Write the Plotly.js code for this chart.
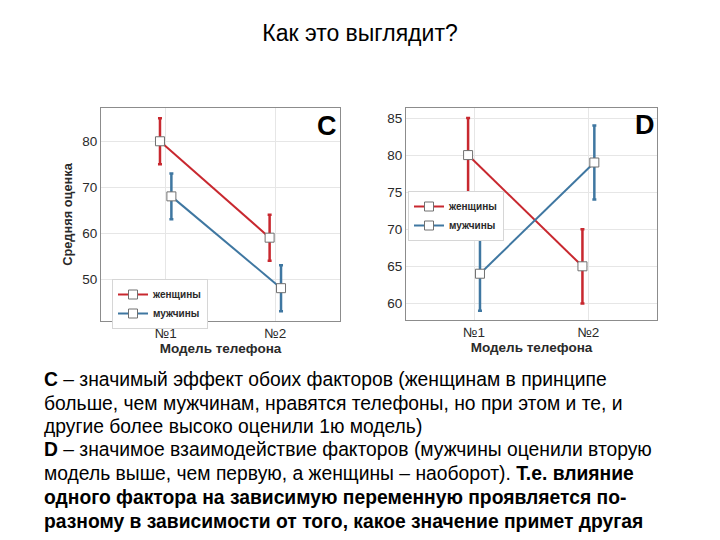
<!DOCTYPE html>
<html><head><meta charset="utf-8">
<script src="https://cdn.plot.ly/plotly-3.0.1.min.js"></script>
<style>html,body{margin:0;padding:0;background:#fff}#chart{width:720px;height:540px}</style>
</head><body><div id="chart"></div>
<script>
// Data
const categories = ['№1', '№2'];
const groups = ['женщины', 'мужчины'];
const womenC = [80, 59];
const womenCErr = [5, 5];
const menC = [68, 48];
const menCErr = [5, 5];
const womenD = [80, 65];
const womenDErr = [5, 5];
const menD = [64, 79];
const menDErr = [5, 5];

const W = 720, H = 540;
const px = v => v / W;
const py = v => 1 - v / H;
const red = '#c8282f', blue = '#3f77a1';
const catPos = [1, 2];
const dodge = 0.052;
const F = 'Liberation Sans, Arial, sans-serif';

function trace(vals, errs, color, name, xa, ya, off, lg) {
  return {
    x: catPos.map(c => c + off), y: vals, name: name, type: 'scatter', mode: 'lines+markers',
    xaxis: xa, yaxis: ya, showlegend: true, legend: lg,
    line: {color: color, width: 2},
    marker: {symbol: 'square', size: 9, color: '#ffffff', line: {color: '#707070', width: 1}},
    error_y: {type: 'data', array: errs, visible: true, color: color, thickness: 2.5, width: 2}
  };
}

const data = [
  trace(womenC, womenCErr, red, groups[0], 'x', 'y', -dodge, 'legend'),
  trace(menC, menCErr, blue, groups[1], 'x', 'y', dodge, 'legend'),
  trace(womenD, womenDErr, red, groups[0], 'x2', 'y2', -dodge, 'legend2'),
  trace(menD, menDErr, blue, groups[1], 'x2', 'y2', dodge, 'legend2')
];

const axCommon = {
  showline: true, mirror: true, linecolor: '#8c8c8c', linewidth: 1,
  showgrid: true, gridcolor: '#e6e6e6', gridwidth: 1, zeroline: false,
  ticks: '', tickfont: {family: F, size: 13.5, color: '#2a2a2a'},
  fixedrange: true
};
const xTitle = {text: '<b>Модель телефона</b>', font: {family: F, size: 13.5, color: '#2a2a2a'}, standoff: 2};

const legendCommon = {
  bgcolor: '#ffffff', bordercolor: '#d6d6d6', borderwidth: 1,
  font: {family: F, size: 10, color: '#2a2a2a', weight: 'bold'},
  xanchor: 'left', yanchor: 'top', tracegroupgap: 0, itemwidth: 30
};

const lines = [
  '<b>C</b> – значимый эффект обоих факторов (женщинам в принципе',
  'больше, чем мужчинам, нравятся телефоны, но при этом и те, и',
  'другие более высоко оценили 1ю модель)',
  '<b>D</b> – значимое взаимодействие факторов (мужчины оценили вторую',
  'модель выше, чем первую, а женщины – наоборот). <b>Т.е. влияние</b>',
  '<b>одного фактора на зависимую переменную проявляется по-</b>',
  '<b>разному в зависимости от того, какое значение примет другая</b>'
];
const lineY = [379, 403, 426, 449, 473, 497, 521];

const annotations = lines.map((t, i) => ({
  text: t, xref: 'paper', yref: 'paper', x: px(42), y: py(lineY[i]),
  xanchor: 'left', yanchor: 'middle', showarrow: false,
  font: {family: F, size: 19.3, color: '#000'}
}));
annotations.push({text: '<b>C</b>', xref: 'paper', yref: 'paper', x: px(327), y: py(126), xanchor: 'center', yanchor: 'middle', showarrow: false, font: {family: F, size: 27, color: '#000'}});
annotations.push({text: '<b>D</b>', xref: 'paper', yref: 'paper', x: px(645), y: py(125), xanchor: 'center', yanchor: 'middle', showarrow: false, font: {family: F, size: 27, color: '#000'}});

const layout = {
  width: W, height: H, margin: {l: 0, r: 0, t: 0, b: 0},
  paper_bgcolor: '#ffffff', plot_bgcolor: '#ffffff',
  title: {text: 'Как это выглядит?', x: 0.5, xanchor: 'center', y: py(33), yanchor: 'middle', yref: 'container',
    font: {family: F, size: 23, color: '#000'}},
  xaxis: Object.assign({}, axCommon, {domain: [px(101), px(340)], range: [0.41, 2.59], tickvals: catPos, ticktext: categories, title: xTitle, anchor: 'y'}),
  yaxis: Object.assign({}, axCommon, {domain: [py(321), py(108)], range: [40.85, 87.25], tickvals: [50, 60, 70, 80], anchor: 'x',
    title: {text: '<b>Средняя оценка</b>', font: {family: F, size: 12.8, color: '#2a2a2a'}, standoff: 6}}),
  xaxis2: Object.assign({}, axCommon, {domain: [px(406), px(657)], range: [0.405, 2.6], tickvals: catPos, ticktext: categories, title: xTitle, anchor: 'y2'}),
  yaxis2: Object.assign({}, axCommon, {domain: [py(320), py(108)], range: [57.76, 86.35], tickvals: [60, 65, 70, 75, 80, 85], anchor: 'x2'}),
  legend: Object.assign({}, legendCommon, {x: px(112), y: py(279)}),
  legend2: Object.assign({}, legendCommon, {x: px(408), y: py(191)}),
  annotations: annotations,
  showlegend: true
};

Plotly.newPlot('chart', data, layout, {displayModeBar: false, staticPlot: true});
</script></body></html>
